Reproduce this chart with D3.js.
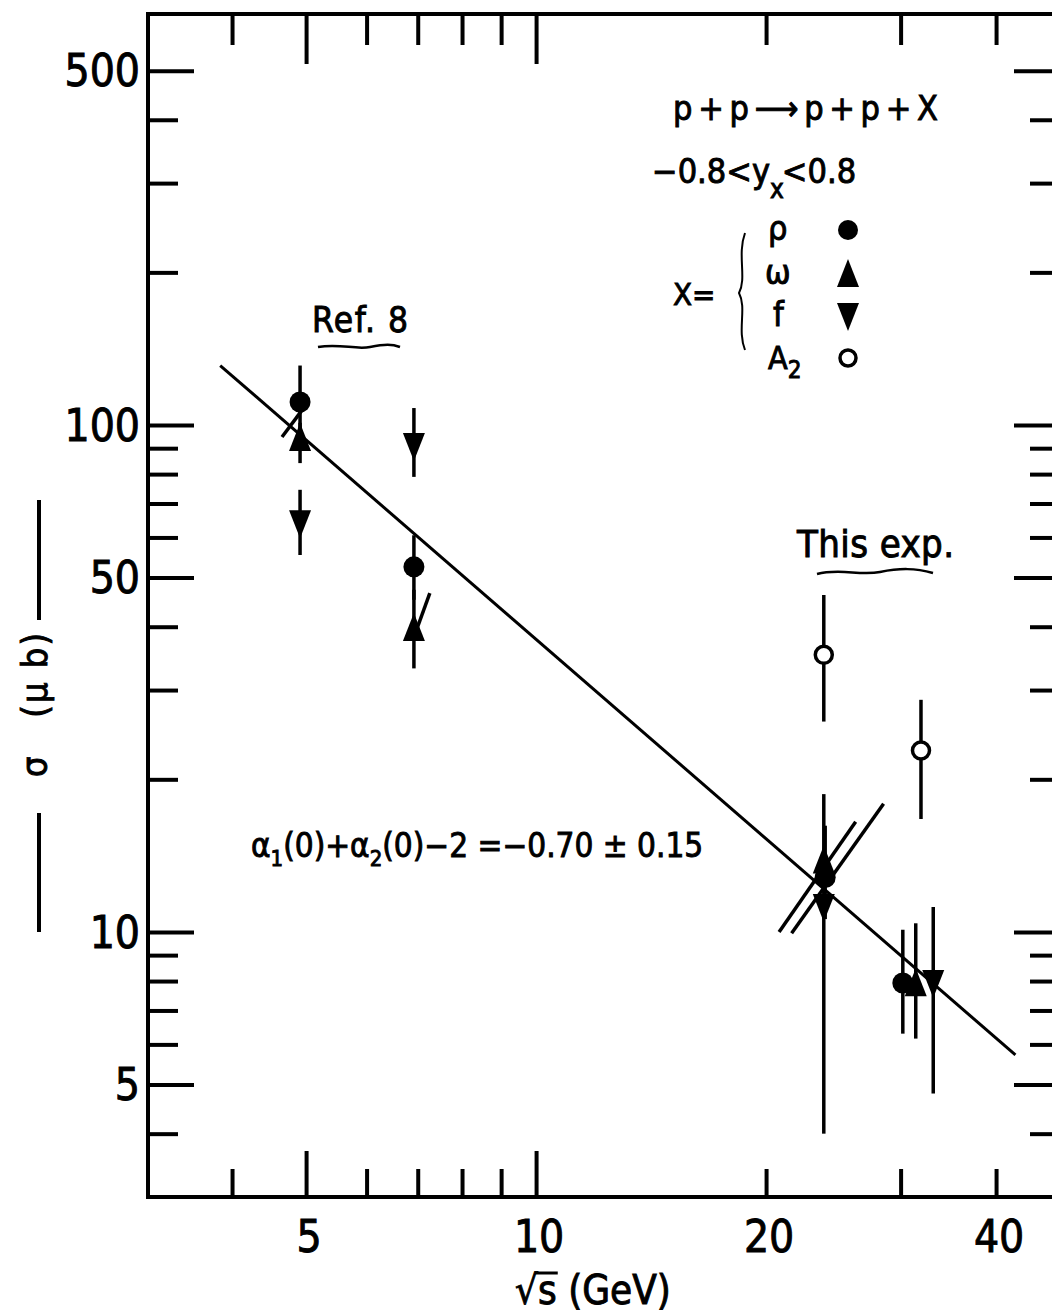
<!DOCTYPE html>
<meta charset="utf-8">
<script src="https://d3js.org/d3.v7.min.js"></script>
<style>
  body { margin: 0; background: #fff; }
  text { font-family: "DejaVu Sans Condensed", "DejaVu Sans", sans-serif; font-stretch: condensed;
         fill: #000; stroke: #000; stroke-width: 0.9px; }
</style>
<div id="chart"></div>
<script>
// rho (filled circle)
var rhoS   = [4.91, 6.92, 23.9, 30.2];
var rhoSig = [111, 52.5, 12.8, 7.93];
var rhoLo  = [98, 45.2, 10.6, 6.3];
var rhoHi  = [131, 60.6, 16.2, 10.1];
// omega (up triangle)
var omS   = [4.91, 6.92, 23.8, 31.4];
var omSig = [93.4, 39.4, 13.7, 7.85];
var omLo  = [84.1, 33.1, 12.6, 6.16];
var omHi  = [101, 47.3, 18.7, 10.4];
// f (down triangle)
var fS   = [4.91, 6.92, 23.8, 33.1];
var fSig = [64.6, 91.7, 11.3, 8.0];
var fLo  = [55.4, 79, 4.0, 4.8];
var fHi  = [74.5, 108, 12.6, 11.2];
// A2 (open circle)
var a2S   = [23.8, 31.9];
var a2Sig = [35.2, 22.8];
var a2Lo  = [26.0, 16.7];
var a2Hi  = [46.2, 28.7];
// slanted bars: [s1, sigma1, s2, sigma2]
var slants = [[4.65, 94.7, 4.94, 107], [6.90, 37.7, 7.26, 46.6],
              [20.8, 10.0, 26.2, 16.5], [21.6, 9.94, 28.5, 17.9]];
// fit line end points
var fitS = [3.86, 42.4];
var fitSig = [131, 5.72];

var xTicks = [4, 5, 6, 7, 8, 9, 10, 20, 30, 40];
var xMajor = [5, 10];
var xLabels = [5, 10, 20, 40];
var yTicks = [4, 5, 6, 7, 8, 9, 10, 20, 30, 40, 50, 60, 70, 80, 90, 100, 200, 300, 400, 500];
var yMajor = [5, 10, 50, 100, 500];
var yLabels = [5, 10, 50, 100, 500];

var margin = {top: 14, left: 148},
    width = 912, height = 1183;

var svg = d3.select("#chart").append("svg")
    .attr("width", 1052).attr("height", 1316);
var g = svg.append("g").attr("transform", "translate(" + margin.left + "," + margin.top + ")");

var x = d3.scaleLog().domain([3.105, 48.5]).range([0, width]);
var y = d3.scaleLog().domain([3.0, 646.7]).range([height, 0]);

function isMajor(list) { return function(d) { return list.indexOf(d) >= 0; }; }

// frame
g.append("rect").attr("width", width).attr("height", height)
  .attr("fill", "none").attr("stroke", "#000").attr("stroke-width", 4);

function ticks(axis, vals, len, tr) {
  var a = g.append("g").attr("transform", tr)
    .call(axis.tickValues(vals).tickSize(-len).tickSizeOuter(0).tickFormat(""));
  a.select(".domain").remove();
  a.selectAll("line").attr("stroke-width", 4);
}
var xMin = xTicks.filter(function(d) { return !isMajor(xMajor)(d); });
var yMin = yTicks.filter(function(d) { return !isMajor(yMajor)(d); });
ticks(d3.axisBottom(x), xMin, 28, "translate(0," + height + ")");
ticks(d3.axisBottom(x), xMajor, 46, "translate(0," + height + ")");
ticks(d3.axisTop(x), xMin, 31, "translate(0,0)");
ticks(d3.axisTop(x), xMajor, 50, "translate(0,0)");
ticks(d3.axisLeft(y), yMin, 30, "translate(0,0)");
ticks(d3.axisLeft(y), yMajor, 46, "translate(0,0)");
ticks(d3.axisRight(y), yMin, 30, "translate(" + width + ",0)");
ticks(d3.axisRight(y), yMajor, 46, "translate(" + width + ",0)");

// tick labels
g.selectAll(".xl").data(xLabels).enter().append("text")
  .attr("x", function(d) { return x(d) + 3; }).attr("y", height + 55)
  .attr("text-anchor", "middle").attr("font-size", 44).text(function(d) { return d; });
g.selectAll(".yl").data(yLabels).enter().append("text")
  .attr("x", -8).attr("y", function(d) { return y(d); }).attr("dy", "0.36em")
  .attr("text-anchor", "end").attr("font-size", 44).text(function(d) { return d; });

// fit line
g.append("line")
  .attr("x1", x(fitS[0])).attr("y1", y(fitSig[0]))
  .attr("x2", x(fitS[1])).attr("y2", y(fitSig[1]))
  .attr("stroke", "#000").attr("stroke-width", 3);

// slanted bars
g.selectAll(".sl").data(slants).enter().append("line")
  .attr("x1", function(d) { return x(d[0]); }).attr("y1", function(d) { return y(d[1]); })
  .attr("x2", function(d) { return x(d[2]); }).attr("y2", function(d) { return y(d[3]); })
  .attr("stroke", "#000").attr("stroke-width", 3.5);

function series(s, sig, lo, hi) {
  return s.map(function(d, i) { return {s: d, sig: sig[i], lo: lo[i], hi: hi[i]}; });
}
var rho = series(rhoS, rhoSig, rhoLo, rhoHi),
    om = series(omS, omSig, omLo, omHi),
    ff = series(fS, fSig, fLo, fHi),
    a2 = series(a2S, a2Sig, a2Lo, a2Hi);

// error bars
[rho, om, ff, a2].forEach(function(ser) {
  g.selectAll(null).data(ser).enter().append("line")
    .attr("x1", function(d) { return x(d.s); }).attr("x2", function(d) { return x(d.s); })
    .attr("y1", function(d) { return y(d.hi); }).attr("y2", function(d) { return y(d.lo); })
    .attr("stroke", "#000").attr("stroke-width", 3.5);
});

var triUp = "M0,-17L11,11L-11,11Z", triDown = "M0,17L11,-11L-11,-11Z";

g.selectAll(".rho").data(rho).enter().append("circle")
  .attr("cx", function(d) { return x(d.s); }).attr("cy", function(d) { return y(d.sig); })
  .attr("r", 10.5).attr("fill", "#000");
g.selectAll(".om").data(om).enter().append("path")
  .attr("d", triUp).attr("fill", "#000")
  .attr("transform", function(d) { return "translate(" + x(d.s) + "," + y(d.sig) + ")"; });
g.selectAll(".ff").data(ff).enter().append("path")
  .attr("d", triDown).attr("fill", "#000")
  .attr("transform", function(d) { return "translate(" + x(d.s) + "," + y(d.sig) + ")"; });
g.selectAll(".a2").data(a2).enter().append("circle")
  .attr("cx", function(d) { return x(d.s); }).attr("cy", function(d) { return y(d.sig); })
  .attr("r", 8.5).attr("fill", "#fff").attr("stroke", "#000").attr("stroke-width", 3.5);

// annotations (svg coords)
function txt(xx, yy, size, str) {
  return svg.append("text").attr("x", xx).attr("y", yy).attr("font-size", size).text(str);
}
txt(312, 332, 35, "Ref. 8").attr("textLength", 96);
svg.append("path").attr("d", "M318,347 C340,343 355,350 370,347 S392,344 400,347")
  .attr("fill", "none").attr("stroke", "#000").attr("stroke-width", 2.5);
txt(797, 557, 38, "This exp.").attr("textLength", 157);
svg.append("path").attr("d", "M817,574 C840,568 860,576 880,572 S915,568 933,573")
  .attr("fill", "none").attr("stroke", "#000").attr("stroke-width", 2.5);

var fm = svg.append("text").attr("x", 251).attr("y", 857).attr("font-size", 33);
fm.append("tspan").text("α");
fm.append("tspan").attr("font-size", 22).attr("dy", 9).text("1");
fm.append("tspan").attr("dy", -9).text("(0)+α");
fm.append("tspan").attr("font-size", 22).attr("dy", 9).text("2");
fm.append("tspan").attr("dy", -9).text("(0)−2 =−0.70 ± 0.15");

// legend
txt(673, 120, 34, "p+p⟶p+p+X").attr("textLength", 265).attr("lengthAdjust", "spacing");
var ry = svg.append("text").attr("x", 652).attr("y", 183).attr("font-size", 34);
ry.append("tspan").text("−0.8<y");
ry.append("tspan").attr("font-size", 26).attr("dy", 15).text("x");
ry.append("tspan").attr("dy", -15).attr("dx", -2).text("<0.8");
txt(768, 240, 34, "ρ");
txt(765, 284, 34, "ω");
txt(773, 326, 34, "f");
var a2t = svg.append("text").attr("x", 768).attr("y", 369).attr("font-size", 32);
a2t.append("tspan").text("A");
a2t.append("tspan").attr("font-size", 24).attr("dy", 9).text("2");
txt(673, 305, 31, "X=");
svg.append("path").attr("d", "M745,233 C737,255 747,278 739,293 C747,308 737,330 745,350")
  .attr("fill", "none").attr("stroke", "#000").attr("stroke-width", 2);
svg.append("circle").attr("cx", 848).attr("cy", 230).attr("r", 10).attr("fill", "#000");
svg.append("path").attr("d", triUp).attr("fill", "#000").attr("transform", "translate(848,276)");
svg.append("path").attr("d", triDown).attr("fill", "#000").attr("transform", "translate(848,314)");
svg.append("circle").attr("cx", 848).attr("cy", 358).attr("r", 8).attr("fill", "#fff")
  .attr("stroke", "#000").attr("stroke-width", 3.5);

// axis titles
svg.append("line").attr("x1", 39).attr("x2", 39).attr("y1", 500).attr("y2", 620)
  .attr("stroke", "#000").attr("stroke-width", 4);
svg.append("line").attr("x1", 39).attr("x2", 39).attr("y1", 813).attr("y2", 932)
  .attr("stroke", "#000").attr("stroke-width", 4);
svg.append("text").attr("transform", "translate(47,704) rotate(-90)")
  .attr("text-anchor", "middle").attr("font-size", 36).attr("xml:space", "preserve")
  .attr("letter-spacing", 2).text("σ   (µ b)");

var xt = svg.append("text").attr("x", 593).attr("y", 1304).attr("text-anchor", "middle").attr("font-size", 40);
xt.append("tspan").text("√");
xt.append("tspan").text("s");
xt.append("tspan").text("  (GeV)");
// bar of the radical over the s
var e0 = xt.node().getExtentOfChar(0), e1 = xt.node().getExtentOfChar(1);
svg.append("line").attr("x1", e0.x + e0.width - 3).attr("x2", e1.x + e1.width + 1)
  .attr("y1", 1304 - 31).attr("y2", 1304 - 31).attr("stroke", "#000").attr("stroke-width", 3);
</script>
